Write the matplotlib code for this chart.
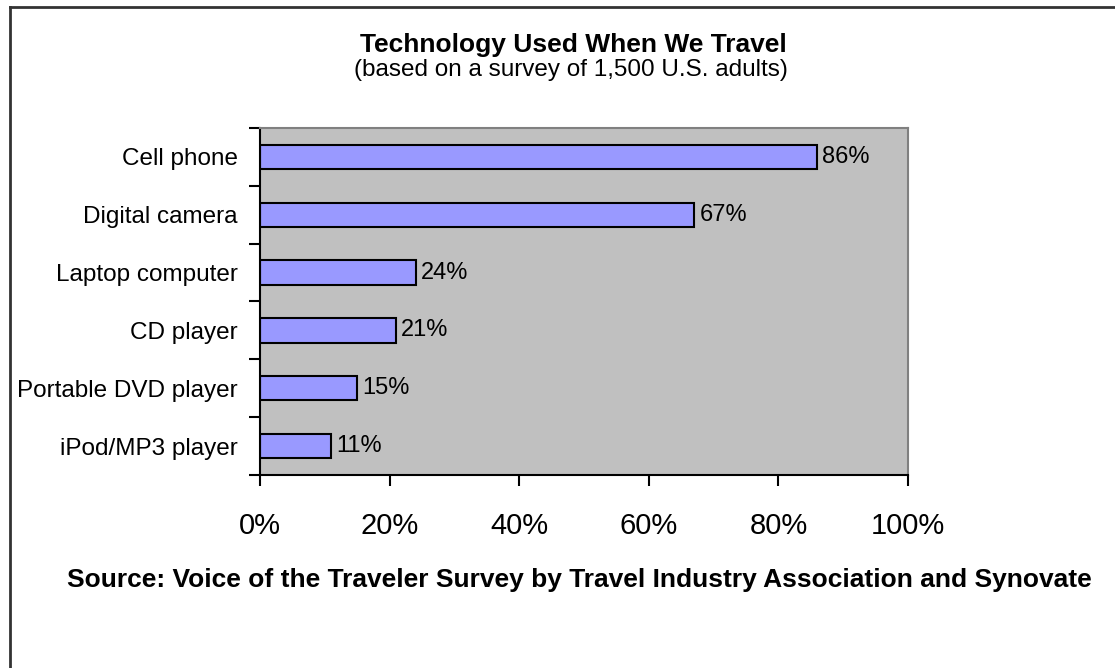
import numpy as np
import matplotlib.pyplot as plt
from matplotlib.lines import Line2D

plt.rcParams['font.family'] = ['Liberation Sans', 'DejaVu Sans']

# data
devices = ['Cell phone', 'Digital camera', 'Laptop computer', 'CD player',
           'Portable DVD player', 'iPod/MP3 player']
percent = [86, 67, 24, 21, 15, 11]
x_ticks = [0, 20, 40, 60, 80, 100]
x_tick_labels = ['0%', '20%', '40%', '60%', '80%', '100%']

fig = plt.figure(figsize=(11.15, 6.68), dpi=100)
ax = fig.add_axes([260/1115, 1-475/668, 648/1115, 347/668])
ax.set_facecolor('#C0C0C0')

y = np.arange(len(devices))
ax.barh(y, percent, height=0.42, color='#9999FF', edgecolor='black', linewidth=1.5)

for yi, v in zip(y, percent):
    ax.text(v + 0.8, yi, f'{v}%', va='center', ha='left', fontsize=17)

ax.set_xlim(0, 100)
ax.set_ylim(len(devices) - 0.5, -0.5)

ax.set_xticks(x_ticks)
ax.set_xticklabels(x_tick_labels, fontsize=21)
ax.tick_params(axis='x', direction='out', length=8, width=1.5, pad=19)

ax.set_yticks(y)
ax.set_yticklabels(devices, fontsize=17.5)
ax.set_yticks(np.arange(-0.5, len(devices)), minor=True)
ax.tick_params(axis='y', which='major', length=0, pad=16)
ax.tick_params(axis='y', which='minor', direction='out', length=8, width=1.5)

for s in ['left', 'bottom']:
    ax.spines[s].set_color('black')
    ax.spines[s].set_linewidth(1.5)
for s in ['top', 'right']:
    ax.spines[s].set_color('#808080')
    ax.spines[s].set_linewidth(1.5)

fig.text(0.514, 1-45/668, 'Technology Used When We Travel', ha='center', va='center',
         fontsize=19, fontweight='bold')
fig.text(0.512, 1-70/668, '(based on a survey of 1,500 U.S. adults)', ha='center', va='center',
         fontsize=17.5)
fig.text(0.52, 1-580/668, 'Source: Voice of the Traveler Survey by Travel Industry Association and Synovate',
         ha='center', va='center', fontsize=19, fontweight='bold')

# outer frame (top and left edges)
fig.add_artist(Line2D([10/1115, 10/1115], [0, 1-7/668], color='#333333', linewidth=2))
fig.add_artist(Line2D([10/1115, 1], [1-7/668, 1-7/668], color='#333333', linewidth=2))

fig.savefig('out.png', dpi=100)
